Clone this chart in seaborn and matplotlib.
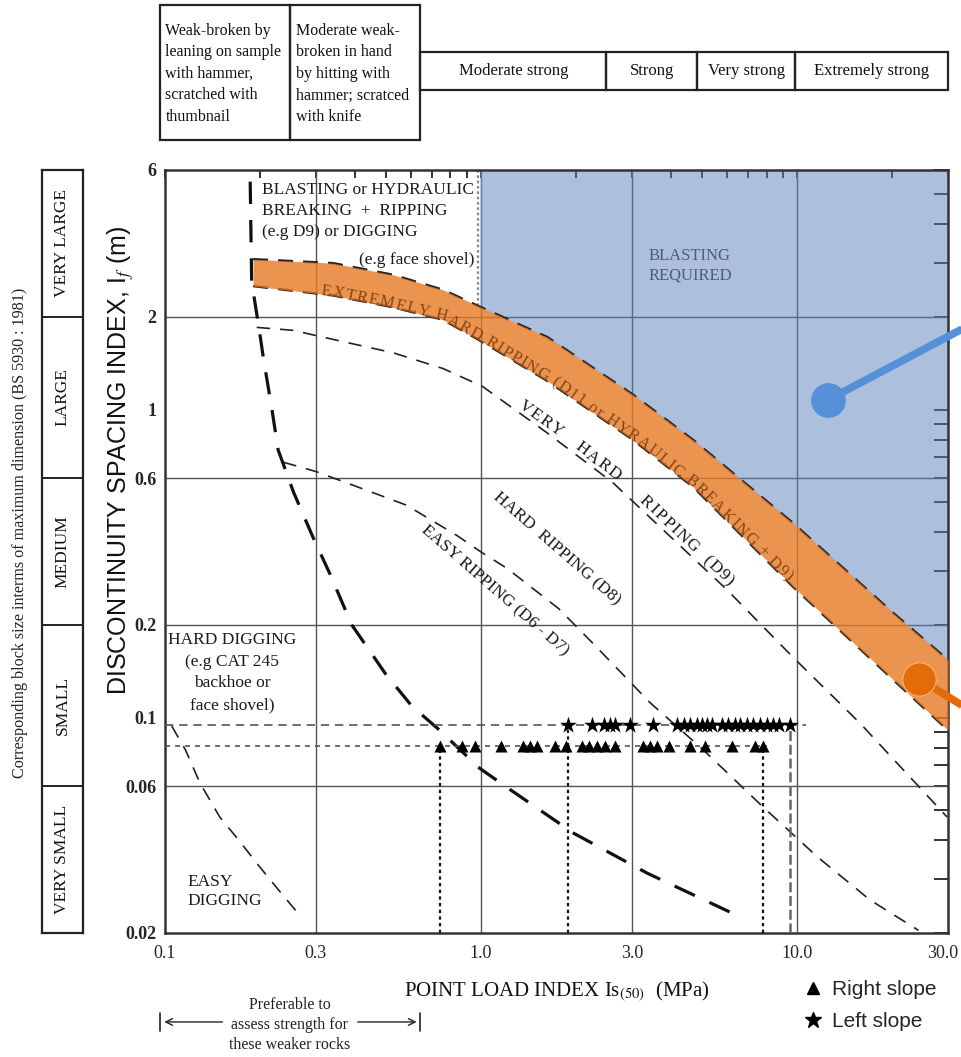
import numpy as np
import matplotlib
matplotlib.use('Agg')
import matplotlib.pyplot as plt
import matplotlib.transforms as mtransforms
import seaborn as sns
from matplotlib.patches import Rectangle
from matplotlib.lines import Line2D
from matplotlib.ticker import FixedLocator, FixedFormatter, LogLocator, NullFormatter

# ------------------------------------------------------------------ data
x_ticks = [0.1, 0.3, 1.0, 3.0, 10.0, 30.0]
x_ticklabels = ['0.1', '0.3', '1.0', '3.0', '10.0', '30.0']
y_ticks = [0.02, 0.06, 0.1, 0.2, 0.6, 1, 2, 6]
y_ticklabels = ['0.02', '0.06', '0.1', '0.2', '0.6', '1', '2', '6']
grid_x = [0.3, 1.0, 3.0, 10.0]
grid_y = [0.06, 0.2, 0.6, 2.0]

# point load index of samples (MPa)
right_slope_is50 = [0.74, 0.87, 0.96, 1.16, 1.36, 1.43, 1.50, 1.71, 1.85, 2.08, 2.19,
                    2.32, 2.47, 2.66, 3.26, 3.43, 3.60, 3.92, 4.59, 5.12, 6.21, 7.36, 7.82]
right_slope_if = 0.081
left_slope_is50 = [1.89, 2.24, 2.44, 2.56, 2.66, 2.96, 3.51, 4.16, 4.37, 4.59, 4.81, 4.99,
                   5.18, 5.37, 5.78, 6.06, 6.36, 6.60, 6.93, 7.27, 7.64, 8.02, 8.41, 8.73, 9.50]
left_slope_if = 0.095

# extremely hard ripping band
band_x = [0.19, 0.34, 0.527, 0.758, 1.0, 1.62, 3.03, 4.69, 9.71, 20.1, 30.0]
band_top = [3.08, 2.99, 2.74, 2.45, 2.15, 1.72, 1.117, 0.797, 0.428, 0.219, 0.154]
band_bottom = [2.52, 2.35, 2.15, 1.96, 1.67, 1.24, 0.797, 0.561, 0.266, 0.133, 0.0911]

# very hard / hard ripping boundary
vhard_x = [0.195, 0.254, 0.35, 0.527, 0.758, 1.01, 1.62, 2.61, 6.0, 9.71, 15.8, 29.8]
vhard_y = [1.85, 1.81, 1.68, 1.53, 1.36, 1.19, 0.84, 0.58, 0.26, 0.157, 0.096, 0.0476]

# hard / easy ripping boundary
hard_x = [0.237, 0.30, 0.40, 0.58, 0.84, 1.0, 1.21, 1.76, 2.25, 3.42, 5.04, 7.8, 11.6, 17.0, 24.2]
hard_y = [0.675, 0.63, 0.565, 0.49, 0.39, 0.345, 0.305, 0.226, 0.175, 0.112, 0.0787, 0.0513, 0.0353, 0.0256, 0.0204]

# digging / ripping boundary (heavy dashes)
dig_x = [0.186, 0.188, 0.198, 0.205, 0.218, 0.228, 0.255, 0.294, 0.333, 0.39, 0.498, 0.604,
         0.731, 0.99, 1.19, 1.96, 3.35, 6.7]
dig_y = [5.5, 2.6, 1.86, 1.46, 1.00, 0.74, 0.54, 0.385, 0.292, 0.20, 0.139, 0.109,
         0.092, 0.0685, 0.060, 0.0422, 0.0313, 0.0224]

# easy digging boundary
edig_x = [0.105, 0.116, 0.129, 0.149, 0.173, 0.196, 0.226, 0.27]
edig_y = [0.094, 0.0787, 0.0614, 0.0476, 0.0395, 0.0335, 0.028, 0.0225]

# rock strength table
strength_box_edges = [0.0964, 0.249, 0.643]
strength_box_labels = ['Weak-broken by\nleaning on sample\nwith hammer,\nscratched with\nthumbnail',
                       'Moderate weak-\nbroken in hand\nby hitting with\nhammer; scratced\nwith knife']
strength_strip_edges = [0.643, 2.49, 4.83, 9.86, 30.0]
strength_strip_labels = ['Moderate strong', 'Strong', 'Very strong', 'Extremely strong']

# block size column
block_edges = [6, 2, 0.6, 0.2, 0.06, 0.02]
block_labels = ['VERY LARGE', 'LARGE', 'MEDIUM', 'SMALL', 'VERY SMALL']

# call-out markers
callout_blue = ([12.5, 40.0], [1.075, 2.02])
callout_orange = ([24.2, 40.0], [0.134, 0.0976])

# ------------------------------------------------------------------ style
sns.set_theme(style='white')
SERIF = ['Liberation Serif', 'DejaVu Serif']
SANS = ['Liberation Sans', 'DejaVu Sans']
plt.rcParams['font.family'] = SERIF
plt.rcParams['mathtext.fontset'] = 'stix'

W, H = 961, 1057
fig = plt.figure(figsize=(W / 100, H / 100), dpi=100, facecolor='white')


def fx(px):
    return px / W


def fy(py):
    return 1 - py / H


ax = fig.add_axes([fx(165), fy(933), fx(948) - fx(165), fy(170) - fy(933)])
ax.set_xscale('log')
ax.set_yscale('log')
ax.set_xlim(0.1, 30)
ax.set_ylim(0.02, 6)
ax.set_facecolor('white')

ax.xaxis.set_major_locator(FixedLocator(x_ticks))
ax.xaxis.set_major_formatter(FixedFormatter(x_ticklabels))
ax.xaxis.set_minor_locator(LogLocator(base=10, subs=np.arange(1, 10), numticks=50))
ax.xaxis.set_minor_formatter(NullFormatter())
ax.yaxis.set_major_locator(FixedLocator(y_ticks))
ax.yaxis.set_major_formatter(FixedFormatter(y_ticklabels))
ax.yaxis.set_minor_locator(LogLocator(base=10, subs=np.arange(1, 10), numticks=50))
ax.yaxis.set_minor_formatter(NullFormatter())
ax.tick_params(which='both', direction='in', top=True, right=True, width=1.4, color='#333333')
ax.tick_params(axis='x', which='both', length=6, pad=9, labelsize=13)
ax.tick_params(axis='y', which='both', length=10, pad=6, labelsize=13)
for lbl in ax.get_yticklabels():
    lbl.set_fontweight('bold')
xl = ax.get_xticklabels()[-1]
xl.set_transform(xl.get_transform() + mtransforms.ScaledTranslation(-4 / 72, 0, fig.dpi_scale_trans))
for s in ax.spines.values():
    s.set_linewidth(1.8)
    s.set_color('#333333')

for gx in grid_x:
    ax.axvline(gx, color='#555555', lw=1.0, zorder=1)
for gy in grid_y:
    ax.axhline(gy, color='#555555', lw=1.0, zorder=1)

# blasting required region
blue_x = [band_x[4]] + band_x[4:] + [band_x[-1]]
blue_y = [6] + band_top[4:] + [6]
ax.fill(blue_x, blue_y, facecolor='#5b80ba', alpha=0.5, edgecolor='#7aa6e0', lw=1.0, zorder=2)
ax.plot([0.975, 0.975], [6, 2.17], color='#888888', lw=1.6, ls=(0, (1.2, 1.2)), zorder=2)

# boundary curves
thin = dict(color='#222222', lw=1.2, ls=(0, (8, 6)), zorder=3)
ax.plot(vhard_x, vhard_y, **thin)
ax.plot(hard_x, hard_y, **thin)
ax.plot(edig_x, edig_y, **thin)
ax.plot(dig_x, dig_y, color='#111111', lw=2.3, ls=(0, (7, 5)), zorder=3)
ax.plot(band_x, band_top, color='#222222', lw=1.8, ls=(0, (6, 4)), zorder=3)
ax.plot(band_x, band_bottom, color='#222222', lw=1.8, ls=(0, (6, 4)), zorder=3)

# extremely hard ripping band
ax.fill_between(band_x, band_bottom, band_top, facecolor='#e57924', alpha=0.8, lw=0, zorder=4)

# sample lines
xmin = x_ticks[0]
ax.plot([xmin, max(left_slope_is50) * 1.12], [left_slope_if] * 2, color='#555555', lw=1.2,
        ls=(0, (5, 3.5)), zorder=3)
ax.plot([xmin, max(right_slope_is50) * 1.03], [right_slope_if] * 2, color='#555555', lw=1.2,
        ls=(0, (3, 3)), zorder=3)
for vx, vy in [(min(right_slope_is50), right_slope_if), (min(left_slope_is50), left_slope_if),
               (max(right_slope_is50), right_slope_if)]:
    ax.plot([vx, vx], [0.02, vy], color='#111111', lw=1.6, ls=(0, (1.5, 1.5)), zorder=3)
ax.plot([max(left_slope_is50)] * 2, [0.02, left_slope_if], color='#666666', lw=1.8,
        ls=(0, (4, 1.5)), zorder=3)

sns.scatterplot(x=right_slope_is50, y=[right_slope_if] * len(right_slope_is50), marker='^',
                s=75, color='black', linewidth=0, ax=ax, zorder=6, legend=False)
sns.scatterplot(x=left_slope_is50, y=[left_slope_if] * len(left_slope_is50), marker='*',
                s=160, color='black', linewidth=0, ax=ax, zorder=6, legend=False)

# call-outs
ax.plot(*callout_blue, color='#5590d8', lw=5.5, solid_capstyle='butt', clip_on=False, zorder=7)
ax.plot(callout_blue[0][0], callout_blue[1][0], 'o', ms=24, color='#5590d8', clip_on=False, zorder=7)
ax.plot(*callout_orange, color='#e36c09', lw=5.5, solid_capstyle='butt', clip_on=False, zorder=7)
ax.plot(callout_orange[0][0], callout_orange[1][0], 'o', ms=24, color='#e36c09', mec='#f3b27a',
        mew=0.8, clip_on=False, zorder=7)

# ------------------------------------------------------------------ texts in plot
tk = dict(family=SERIF, fontsize=12.5, color='#1a1a1a', zorder=5)
ax.text(0.203, 5.5, 'BLASTING or HYDRAULIC\nBREAKING  +  RIPPING\n(e.g D9) or DIGGING',
        ha='left', va='top', linespacing=1.45, **tk)
ax.text(0.95, 3.07, '(e.g face shovel)', ha='right', va='center', **tk)
ax.text(4.58, 2.94, 'BLASTING\nREQUIRED', ha='center', va='center', linespacing=1.3,
        family=SERIF, fontsize=12, color='#4d5d7a', zorder=5)
ax.text(1.727, 0.353, 'HARD  RIPPING (D8)', rotation=-41, rotation_mode='anchor',
        ha='center', va='center', **tk)
ax.text(1.107, 0.258, 'EASY RIPPING (D6 - D7)', rotation=-41, rotation_mode='anchor',
        ha='center', va='center', **tk)
ax.text(0.163, 0.19, 'HARD DIGGING\n(e.g CAT 245\nbackhoe or\nface shovel)', ha='center',
        va='top', linespacing=1.48, **tk)
ax.text(0.118, 0.0272, 'EASY\nDIGGING', ha='left', va='center', linespacing=1.25, **tk)

fig.canvas.draw()
renderer = fig.canvas.get_renderer()


def text_along(xs, ys, s, start_x, offset_px, **kw):
    lx = np.log10(xs)
    ly = np.log10(ys)
    t = np.linspace(lx[0], lx[-1], 800)
    pts = ax.transData.transform(np.column_stack([10 ** t, 10 ** np.interp(t, lx, ly)]))
    cum = np.r_[0, np.cumsum(np.hypot(np.diff(pts[:, 0]), np.diff(pts[:, 1])))]
    p0 = ax.transData.transform((start_x, 10 ** np.interp(np.log10(start_x), lx, ly)))
    pos = np.interp(p0[0], pts[:, 0], cum)
    inv = ax.transData.inverted()
    fs = kw.get('fontsize', 12) * fig.dpi / 72
    for ch in s:
        if ch == ' ':
            pos += 0.3 * fs
            continue
        tmp = ax.text(0, 0, ch, **kw)
        w = tmp.get_window_extent(renderer).width + 0.07 * fs
        tmp.remove()
        c = pos + w / 2
        x = np.interp(c, cum, pts[:, 0])
        y = np.interp(c, cum, pts[:, 1])
        i = int(min(max(np.searchsorted(cum, c), 1), len(pts) - 1))
        dx, dy = pts[i] - pts[i - 1]
        L = np.hypot(dx, dy)
        nx, ny = -dy / L, dx / L
        ang = np.degrees(np.arctan2(dy, dx))
        xd, yd = inv.transform((x + nx * offset_px, y + ny * offset_px))
        ax.text(xd, yd, ch, rotation=ang, rotation_mode='anchor', ha='center', va='baseline', **kw)
        pos += w


text_along(band_x, band_bottom, 'EXTREMELY HARD RIPPING (D11 or HYRAULIC BREAKING + D9)', 0.31, -1,
           family=SERIF, fontsize=12, color='#8a4516', zorder=5)
for word, sx in [('VERY', 1.28), ('HARD', 1.93), ('RIPPING  (D9)', 3.08)]:
    text_along(vhard_x, vhard_y, word, sx, 4, family=SERIF, fontsize=12.5, color='#1a1a1a', zorder=5)

# axis labels and legend
ax.text(0.5, -0.0775, 'POINT LOAD INDEX Is$_{(50)}$  (MPa)', transform=ax.transAxes,
        ha='center', va='center', family=SERIF, fontsize=15, color='#111111')
fig.text(fx(121), fy(460), 'DISCONTINUITY SPACING INDEX, I$_f$ (m)', rotation=90,
         ha='center', va='center', family=SANS, fontsize=18, color='#111111')
fig.text(fx(20), fy(533), 'Corresponding block size interms of maximum dimension (BS 5930 : 1981)',
         rotation=90, ha='center', va='center', family=SERIF, fontsize=11.6, color='#222222')

handles = [Line2D([], [], marker='^', ls='none', color='black', markersize=8, label='Right slope'),
           Line2D([], [], marker='*', ls='none', color='black', markersize=12, label='Left slope')]
ax.legend(handles=handles, loc='upper left', bbox_to_anchor=(fx(803), fy(980)),
          bbox_transform=fig.transFigure, frameon=False, prop={'family': SANS, 'size': 15},
          handlelength=1.0, handletextpad=0.4, labelspacing=0.62, borderaxespad=0, borderpad=0)

# "preferable" annotation below the axis
tr = ax.get_xaxis_transform()
yb = -0.1166
ax.annotate('', xy=(0.0975, yb), xytext=(0.155, yb), xycoords=tr, textcoords=tr,
            arrowprops=dict(arrowstyle='->', lw=1.0, color='#222222'), annotation_clip=False)
ax.annotate('', xy=(0.638, yb), xytext=(0.399, yb), xycoords=tr, textcoords=tr,
            arrowprops=dict(arrowstyle='->', lw=1.0, color='#222222'), annotation_clip=False)
for bx in [0.0964, 0.643]:
    ax.plot([bx, bx], [yb - 0.012, yb + 0.012], color='#222222', lw=1.2, transform=tr, clip_on=False)
ax.text(0.248, -0.1206, 'Preferable to\nassess strength for\nthese weaker rocks', transform=tr,
        ha='center', va='center', linespacing=1.3, family=SERIF, fontsize=11.5, color='#222222')

# ------------------------------------------------------------------ strength table (top)
axt = fig.add_axes([fx(165), fy(140), fx(948) - fx(165), fy(5) - fy(140)])
axt.set_xscale('log')
axt.set_xlim(0.1, 30)
axt.set_ylim(0, 1)
axt.axis('off')
for i in range(len(strength_box_edges) - 1):
    x0, x1 = strength_box_edges[i], strength_box_edges[i + 1]
    axt.add_patch(Rectangle((x0, 0), x1 - x0, 1, fill=False, lw=1.6, ec='#222222', clip_on=False))
    axt.text(x0 * 1.04, 0.49, strength_box_labels[i], ha='left', va='center', linespacing=1.45,
             family=SERIF, fontsize=11.5, color='#111111')
sy0, sy1 = 0.370, 0.652
for i in range(len(strength_strip_edges) - 1):
    x0, x1 = strength_strip_edges[i], strength_strip_edges[i + 1]
    axt.add_patch(Rectangle((x0, sy0), x1 - x0, sy1 - sy0, fill=False, lw=1.6, ec='#222222',
                            clip_on=False))
    axt.text(np.sqrt(x0 * x1), (sy0 + sy1) / 2, strength_strip_labels[i], ha='center', va='center',
             family=SERIF, fontsize=12, color='#111111')

# ------------------------------------------------------------------ block size column (left)
axb = fig.add_axes([fx(42), fy(933), fx(83) - fx(42), fy(170) - fy(933)])
axb.set_yscale('log')
axb.set_ylim(0.02, 6)
axb.set_xlim(0, 1)
axb.tick_params(which='both', left=False, right=False, bottom=False, top=False,
                labelleft=False, labelbottom=False)
axb.set_facecolor('white')
for s in axb.spines.values():
    s.set_linewidth(1.6)
    s.set_color('#222222')
for e in block_edges[1:-1]:
    axb.axhline(e, color='#222222', lw=1.4)
for i, lab in enumerate(block_labels):
    yc = np.sqrt(block_edges[i] * block_edges[i + 1])
    axb.text(0.5, yc, lab, rotation=90, ha='center', va='center', family=SERIF, fontsize=12.5,
             color='#111111')

fig.savefig('out.png', dpi=100, facecolor='white')
